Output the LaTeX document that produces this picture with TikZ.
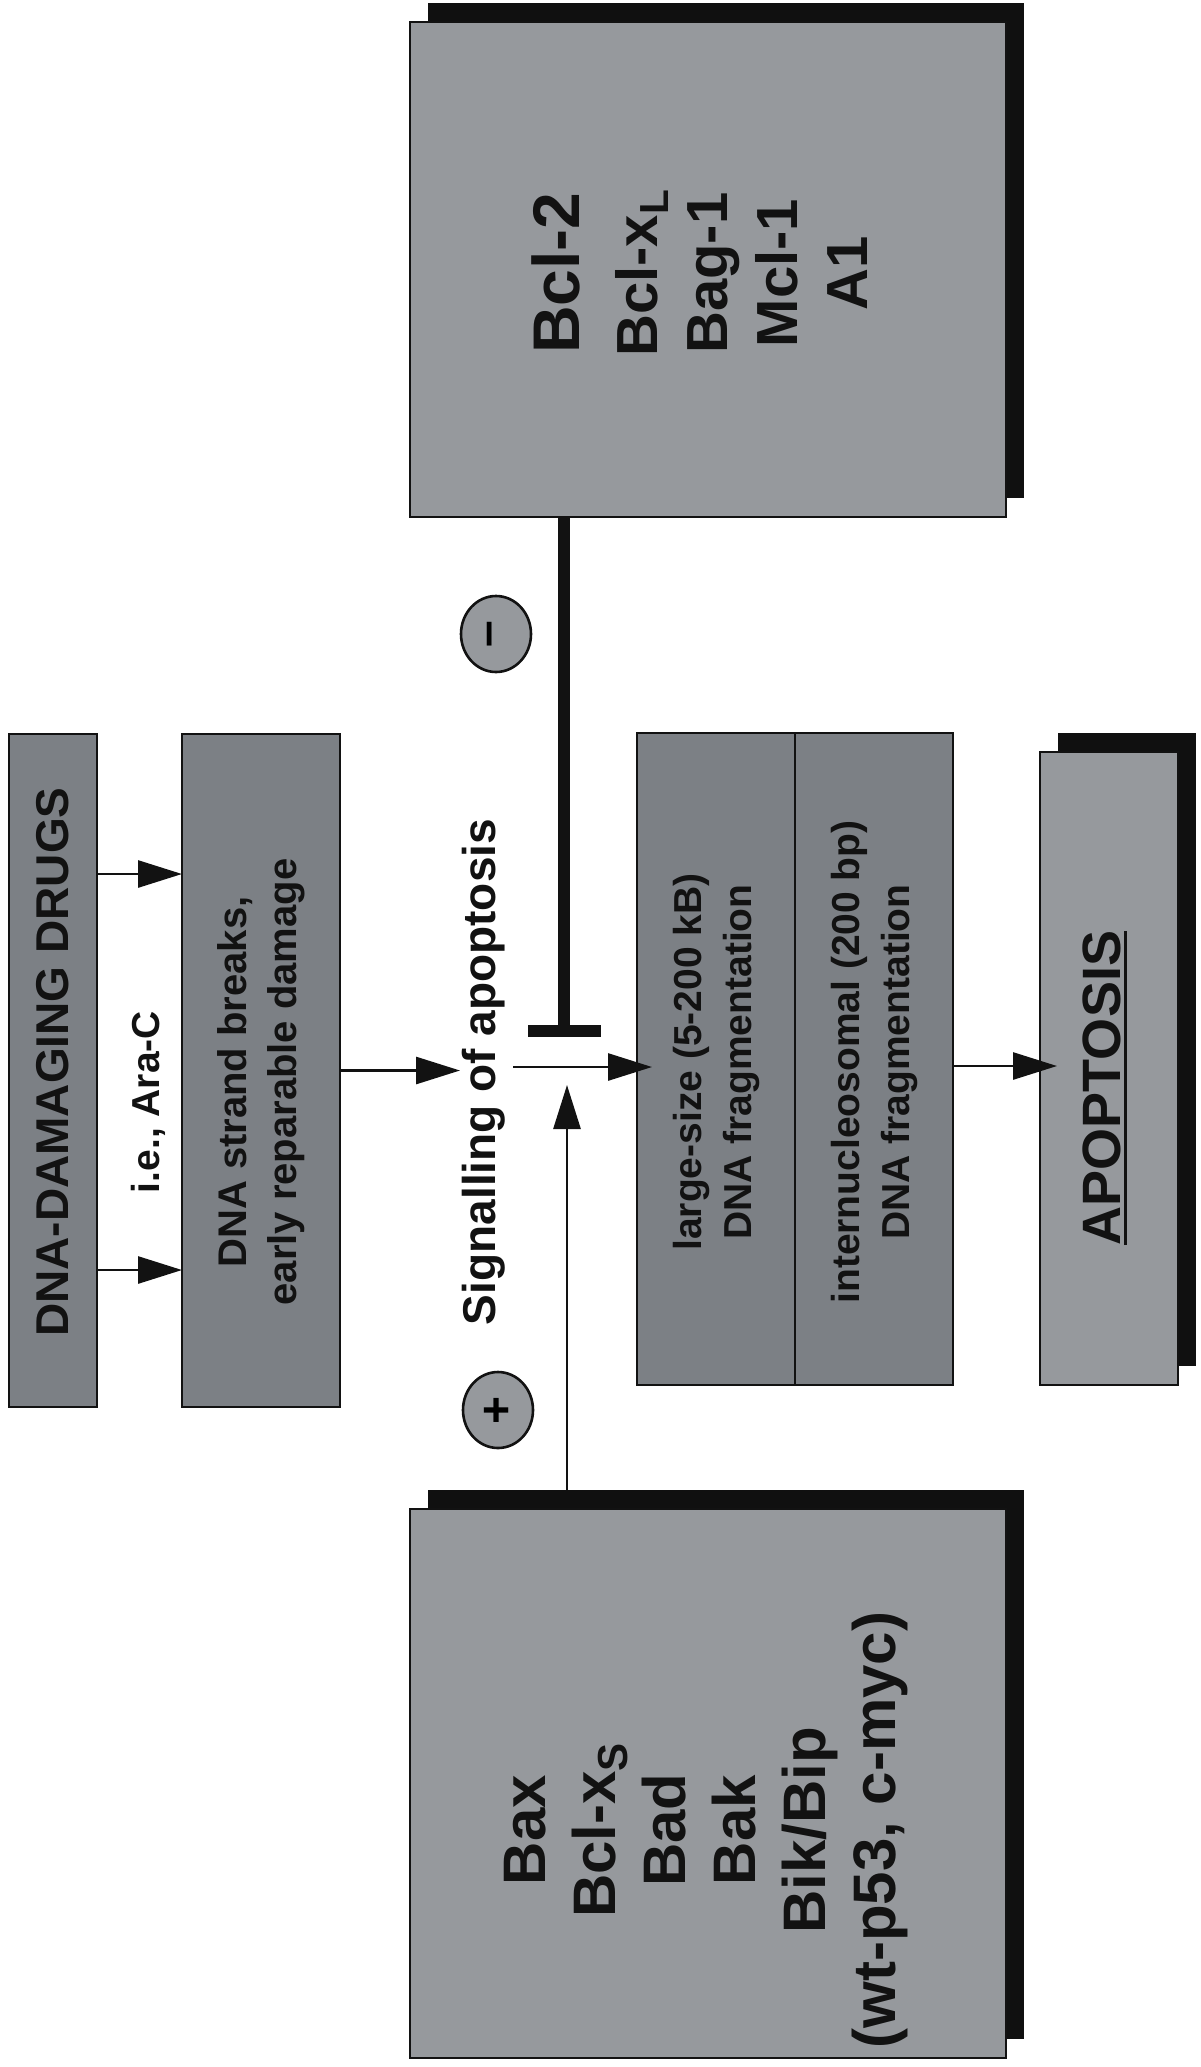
\documentclass[tikz,border=0pt]{standalone}
\usepackage{fontspec}
\setmainfont{Liberation Sans}
\usepackage{graphicx}
\usetikzlibrary{arrows.meta,calc,shapes.geometric}
\definecolor{boxdark}{RGB}{124,128,133}
\definecolor{boxlight}{RGB}{150,153,157}
\definecolor{shadowc}{RGB}{16,16,16}
\definecolor{inkc}{RGB}{18,18,18}
\newcommand{\ulapop}[1]{\setbox0\hbox{#1}\rlap{\rule[-3pt]{\wd0}{1.4pt}}\box0}
\begin{document}
\begin{tikzpicture}[x=0.5pt,y=-0.5pt,
  boxd/.style={draw=inkc, line width=1pt, fill=boxdark, inner sep=0pt, outer sep=0pt},
  boxl/.style={draw=inkc, line width=1pt, fill=boxlight, inner sep=0pt, outer sep=0pt},
  shadowbox/.style={fill=shadowc, draw=none, inner sep=0pt, outer sep=0pt},
  txt/.style={rotate=90, inner sep=0pt, text=inkc},
  arr/.style={draw=inkc, line width=1.4pt, -{Triangle[length=22pt,width=13.5pt]}},
  thinline/.style={draw=inkc, line width=1.4pt},
  inhib/.style={draw=inkc, line width=6pt},
  sign/.style={ellipse, draw=inkc, line width=1.3pt, fill=boxlight, minimum width=35pt, minimum height=38pt, inner sep=0pt}
]
\useasboundingbox (0,0) rectangle (1200,2067);
\fill[white] (0,0) rectangle (1200,2067);

% left column boxes
\node[boxd, minimum width=44pt, minimum height=336.5pt] (drugs) at (53,1070.5) {};
\node[boxd, minimum width=79pt, minimum height=336.5pt] (dsb) at (261,1070.5) {};

% fragmentation boxes
\node[boxd, minimum width=79pt, minimum height=326pt] (fragA) at (716,1059) {};
\node[boxd, minimum width=79pt, minimum height=326pt] (fragB) at (874,1059) {};

% apoptosis box with shadow
\node[shadowbox, minimum width=69pt, minimum height=316.5pt] (apopSh) at (1127,1049.5) {};
\node[boxl, minimum width=69pt, minimum height=316.5pt] (apop) at (1109,1068.5) {};

% Bcl-2 box with shadow
\node[shadowbox, minimum width=298pt, minimum height=247.5pt] (bclSh) at (726,250.5) {};
\node[boxl, minimum width=298pt, minimum height=247.5pt] (bcl) at (708,269.5) {};

% pro-apoptotic box with shadow
\node[shadowbox, minimum width=298pt, minimum height=274.5pt] (proSh) at (726,1764.5) {};
\node[boxl, minimum width=298pt, minimum height=274.5pt] (pro) at (708,1783.5) {};

% texts
\node[txt, font=\fontsize{23}{28}\selectfont\bfseries] (drugsT) at (53,1062) {DNA-DAMAGING DRUGS};
\node[txt, font=\fontsize{19.5}{24}\selectfont\bfseries] (ieT) at (148,1102) {i.e., Ara-C};
\node[txt, align=center, font=\fontsize{20}{25}\selectfont\bfseries] (dsbT) at (261,1082) {DNA strand breaks,\\ early reparable damage};
\node[txt, font=\fontsize{23}{28}\selectfont\bfseries] (sigT) at (484,1072) {Signalling of apoptosis};
\node[txt, align=center, font=\fontsize{19.5}{25}\selectfont\bfseries] (fragAT) at (716,1062) {large-size (5-200 kB)\\ DNA fragmentation};
\node[txt, align=center, font=\fontsize{19.5}{25}\selectfont\bfseries] (fragBT) at (874,1062) {internucleosomal (200 bp)\\ DNA fragmentation};
\node[txt, font=\fontsize{27}{32}\selectfont\bfseries] (apopT) at (1105,1088) {\ulapop{APOPTOSIS}};
\node[txt, align=center, font=\fontsize{29}{35}\selectfont\bfseries] (bclT) at (700,273) {{\fontsize{33}{35}\selectfont Bcl-2}\\[4pt] Bcl-x\textsubscript{L}\\ Bag-1\\ Mcl-1\\ A1};
\node[txt, align=center, font=\fontsize{30}{35}\selectfont\bfseries] (proT) at (706,1830) {Bax\\ Bcl-x\textsubscript{S}\\ Bad\\ Bak\\ Bik/Bip\\ (wt-p53, c-myc)};

% signs
\node[sign, font=\fontsize{24}{24}\selectfont\bfseries] (minus) at (496,634) {\rotatebox{90}{\raisebox{1pt}{–}}};
\node[sign, font=\fontsize{24}{24}\selectfont\bfseries] (plus) at (498,1410) {\rotatebox{90}{+}};

% coordinates for free ends
\coordinate (sigIn) at (460,1070.5);
\coordinate (sigOut) at (513,1067);
\coordinate (fragIn) at ($(fragA.west)+(15,8)$);
\coordinate (apIn) at ($(apop.west)+(17,-2.5)$);
\coordinate (tee) at (564,1031);
\coordinate (upTip) at (567,1085);

% connectors
\draw[arr] ([yshift=98.25pt]drugs.east) -- ([yshift=98.25pt]dsb.west);
\draw[arr] ([yshift=-99.75pt]drugs.east) -- ([yshift=-99.75pt]dsb.west);
\draw[arr] (dsb.east) -- (sigIn);
\draw[arr] (sigOut) -- (fragIn);
\draw[arr] (fragB.east |- apIn) -- (apIn);
\draw[inhib] (tee |- bcl.south) -- (tee);
\draw[inhib] ([xshift=-18pt]tee) -- ([xshift=18.5pt]tee);
\draw[arr] (upTip |- proSh.north) -- (upTip);
\end{tikzpicture}
\end{document}
